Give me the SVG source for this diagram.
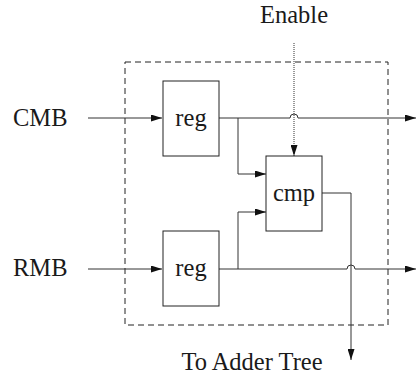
<svg xmlns="http://www.w3.org/2000/svg" width="418" height="376" viewBox="0 0 418 376">
  <style>
    .box { fill: #fff; stroke: #222; stroke-width: 1; }
    .wire { fill: none; stroke: #333; stroke-width: 1; }
    .lbl { font-family: "Liberation Serif", "Times New Roman", serif; font-size: 24.5px; fill: #1a1a1a; }
  </style>
  <defs>
    <marker id="arr" viewBox="0 0 11 7" refX="11" refY="3.5" markerWidth="11" markerHeight="7" markerUnits="userSpaceOnUse" orient="auto">
      <path d="M0,0 L11,3.5 L0,7 z" fill="#111"/>
    </marker>
  </defs>
  <rect width="418" height="376" fill="#fff"/>

  <!-- enclosing boundary -->
  <rect x="125" y="62" width="263" height="263" fill="none" stroke="#222" stroke-width="1" stroke-dasharray="6,4"/>

  <g id="connectors">
    <!-- inputs -->
    <path class="wire" d="M88,118 H162" marker-end="url(#arr)"/>
    <path class="wire" d="M88,269 H162" marker-end="url(#arr)"/>
    <!-- top register output, hopping over the enable line -->
    <path class="wire" d="M219,118 H290 A4,4 0 0 1 298,118 H416" marker-end="url(#arr)"/>
    <!-- bottom register output, hopping over the cmp output -->
    <path class="wire" d="M219,269 H347 A4,4 0 0 1 355,269 H416" marker-end="url(#arr)"/>
    <!-- branches into the comparator -->
    <path class="wire" d="M238,118 V174 H266" marker-end="url(#arr)"/>
    <path class="wire" d="M238,269 V212 H266" marker-end="url(#arr)"/>
    <!-- enable -->
    <path class="wire" d="M294,43 V156" stroke-dasharray="1,1" marker-end="url(#arr)"/>
    <!-- comparator output -->
    <path class="wire" d="M322,193 H351 V360" marker-end="url(#arr)"/>
  </g>

  <g id="reg-top">
    <rect class="box" x="163" y="81" width="56" height="75"/>
    <text class="lbl" x="191" y="126" text-anchor="middle">reg</text>
  </g>
  <g id="reg-bottom">
    <rect class="box" x="163" y="231" width="56" height="75"/>
    <text class="lbl" x="191" y="276" text-anchor="middle">reg</text>
  </g>
  <g id="cmp">
    <rect class="box" x="266" y="156" width="56" height="75"/>
    <text class="lbl" x="294" y="201" text-anchor="middle">cmp</text>
  </g>

  <g id="labels">
    <text class="lbl" x="13" y="126">CMB</text>
    <text class="lbl" x="13" y="276">RMB</text>
    <text class="lbl" x="294" y="23" text-anchor="middle">Enable</text>
    <text class="lbl" x="252" y="370" text-anchor="middle">To Adder Tree</text>
  </g>
</svg>
